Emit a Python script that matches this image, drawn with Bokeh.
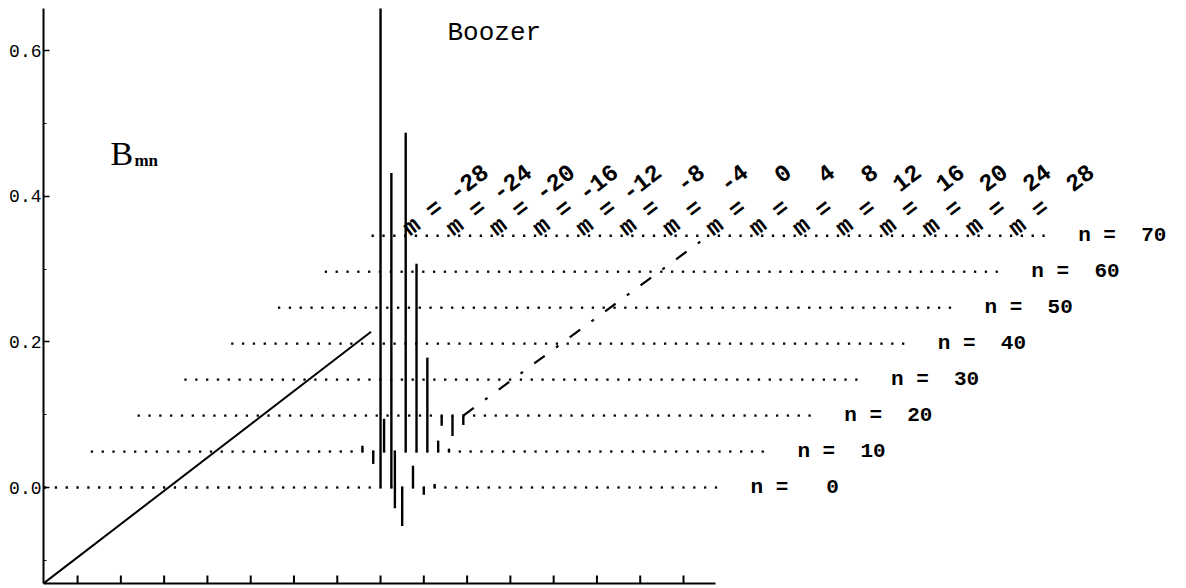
import numpy as np
from bokeh.plotting import figure
from bokeh.models import FixedTicker, NumeralTickFormatter, Label, ColumnDataSource
from bokeh.core.properties import value
from bokeh.embed import file_html
from bokeh.resources import INLINE

# ---------------- data ----------------
n_rows = [0, 10, 20, 30, 40, 50, 60, 70]
m_grid = list(range(-31, 32))
m_label_vals = list(range(-28, 29, 4))
y_ticks = [0.0, 0.2, 0.4, 0.6]
y_minor = [-0.1, 0.1, 0.3, 0.5]

bar_m = [0, 1, 2, 3, 4, 5,
         -6, -5, -4, -3, -2, -1, 0, 1, 2,
         -3, -2, -1]
bar_n = [0, 0, 0, 0, 0, 0,
         10, 10, 10, 10, 10, 10, 10, 10, 10,
         20, 20, 20]
bar_b = [1.0, 0.432, -0.053, 0.030, -0.010, 0.005,
         0.008, -0.017, 0.045, -0.078, 0.438, 0.258, 0.129, 0.015, 0.004,
         -0.014, -0.028, -0.013]

# dash-dot reference line (m, n) end points
ref_m = [-1, 0]
ref_n = [20, 70]

# ---------------- projection / layout constants ----------------
KX = 0.4325      # m-units shift per unit of n
KY = 0.00494     # B-units shift per unit of n
W, H = 1180, 586
ML, MT, MB = 43, 8, 3
PX_M, PX_B = 10.82, 728.0
M_MIN, M_MAX = -31.15, 31.0
X_END = M_MIN + (W - ML) / PX_M
B_TOP = 479.0 / PX_B
B_MIN = B_TOP - (H - MT - MB) / PX_B
ANG = float(np.arctan2(KY * PX_B, KX * PX_M))
TICK_LEN = 8.0 / PX_B
NB = "\u00a0"


def X(m, n):
    return np.asarray(m, float) + KX * np.asarray(n, float)


def Y(b, n):
    return np.asarray(b, float) + KY * np.asarray(n, float)


MONO = value("Liberation Mono")

p = figure(width=W, height=H, output_backend="svg", toolbar_location=None,
           x_range=(M_MIN, X_END), y_range=(B_MIN, B_TOP),
           min_border_left=ML, min_border_right=0, min_border_top=MT,
           min_border_bottom=MB, background_fill_color="white",
           border_fill_color="white", outline_line_color=None)
p.grid.visible = False

# x axis: line only (ticks drawn inward below)
xa = p.xaxis[0]
xa.ticker = FixedTicker(ticks=[])
xa.bounds = (M_MIN, M_MAX)
xa.major_tick_in = 0
xa.major_tick_out = 0
xa.minor_tick_in = 0
xa.minor_tick_out = 0
xa.major_label_standoff = 0
xa.axis_line_width = 2
xa.axis_line_color = "black"

ya = p.yaxis[0]
ya.ticker = FixedTicker(ticks=y_ticks, minor_ticks=y_minor)
ya.formatter = NumeralTickFormatter(format="0.0")
ya.major_tick_in = 6
ya.major_tick_out = 0
ya.minor_tick_in = 3
ya.minor_tick_out = 0
ya.major_label_standoff = 2
ya.major_label_text_font = "Liberation Mono"
ya.major_label_text_font_size = "18px"
ya.major_label_text_color = "black"
ya.axis_line_width = 2
ya.axis_line_color = "black"
ya.major_tick_line_color = "black"
ya.major_tick_line_width = 1.5
ya.minor_tick_line_color = "black"

# inward x ticks at m = -28 ... 28
p.segment(x0=m_label_vals, y0=[B_MIN] * len(m_label_vals), x1=m_label_vals,
          y1=[B_MIN + TICK_LEN] * len(m_label_vals), line_color="black",
          line_width=2)

# dotted rows (one dot for each m on every n row)
gm, gn = np.meshgrid(m_grid, n_rows)
p.scatter(X(gm.ravel(), gn.ravel()), Y(0.0, gn.ravel()), marker="square",
          size=2.3, color="black", line_width=0)

# box edge along n at (m_min, B_min)
p.line(X([M_MIN, M_MIN], [0, 70]), Y([B_MIN, B_MIN], [0, 70]),
       line_color="black", line_width=2)

# spectrum bars
src = ColumnDataSource(dict(x=X(bar_m, bar_n), y0=Y(0.0, bar_n),
                            y1=Y(bar_b, bar_n)))
p.segment(x0="x", y0="y0", x1="x", y1="y1", source=src,
          line_color="black", line_width=2.4)

# dash-dot reference line
p.line(X(ref_m, ref_n), Y([0.0, 0.0], ref_n), line_color="black",
       line_width=2.2, line_dash="13 14 3 14")

# n labels
p.text(x=X([34.2] * len(n_rows), n_rows), y=Y([0.0] * len(n_rows), n_rows),
       text=[f"n = {n:3d}".replace(" ", NB) for n in n_rows], text_font=MONO,
       text_font_size="21px", text_font_style="bold", text_baseline="middle",
       text_align="left", text_color="black")

# m labels (rotated along the n direction)
p.text(x=X([m + 0.1 for m in m_label_vals], [70] * len(m_label_vals)),
       y=Y([0.006] * len(m_label_vals), [70] * len(m_label_vals)),
       text=[f"m = {m:3d}".replace(" ", NB) for m in m_label_vals],
       text_font=MONO, text_font_size="24px", text_font_style="bold",
       text_baseline="alphabetic", text_align="left", angle=ANG,
       text_color="black")

# title & axis name
p.add_layout(Label(x=6.19, y=0.624, text="Boozer", text_font="Liberation Mono",
                   text_font_size="26px", text_baseline="alphabetic",
                   text_color="black"))
p.add_layout(Label(x=-24.95, y=0.459, text="B", text_font="Liberation Serif",
                   text_font_size="34px", text_baseline="alphabetic",
                   text_color="black"))
p.add_layout(Label(x=-22.75, y=0.449, text="mn", text_font="Liberation Serif",
                   text_font_size="17px", text_font_style="bold",
                   text_baseline="alphabetic", text_color="black"))

open("out.html", "w").write(file_html(p, INLINE))
